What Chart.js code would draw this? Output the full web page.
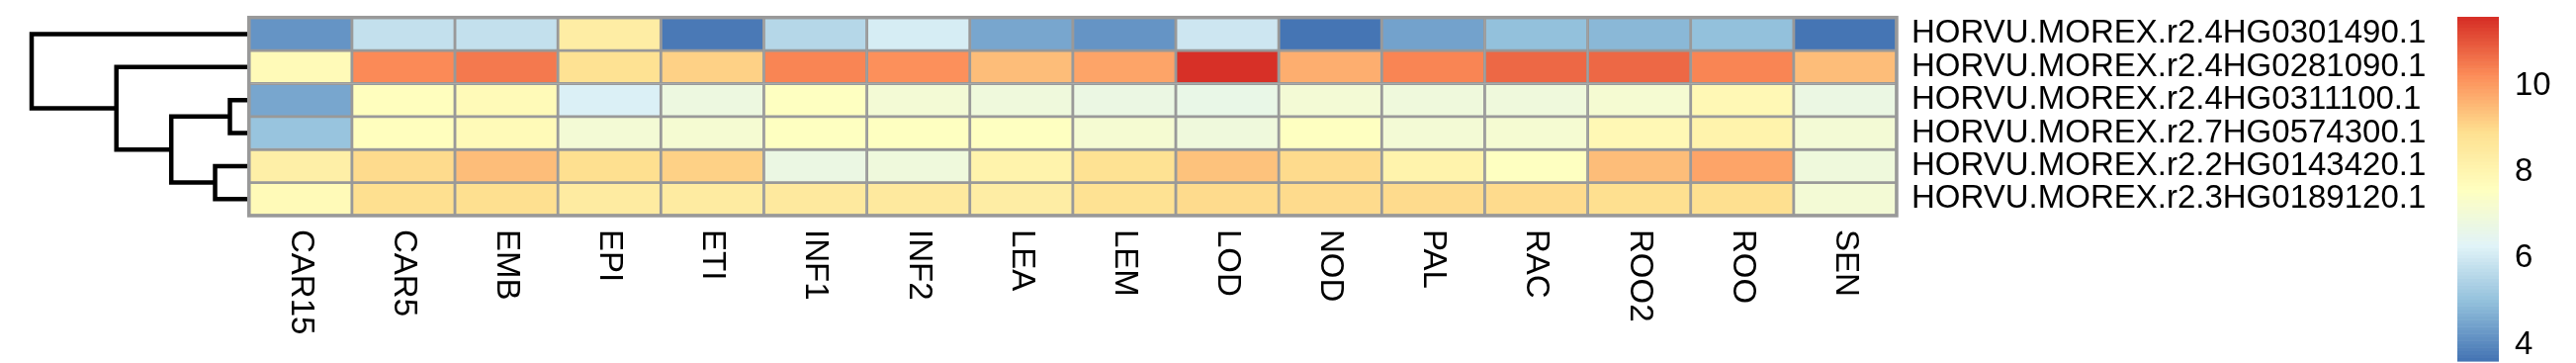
<!DOCTYPE html>
<html>
<head>
<meta charset="utf-8">
<script src="https://cdn.jsdelivr.net/npm/chart.js@4.4.1/dist/chart.umd.min.js"></script>
<style>
body{margin:0;background:#fff;}
#wrap{position:relative;width:2605px;height:367px;}
canvas{position:absolute;left:0;top:0;}
</style>
</head>
<body>
<div id="wrap">
<canvas id="tree" width="2605" height="367"></canvas>
<canvas id="heat" width="2605" height="367"></canvas>
</div>
<script>
/* DATA */
const cols = ["CAR15","CAR5","EMB","EPI","ETI","INF1","INF2","LEA","LEM","LOD","NOD","PAL","RAC","ROO2","ROO","SEN"];
const genes = ["HORVU.MOREX.r2.4HG0301490.1","HORVU.MOREX.r2.4HG0281090.1","HORVU.MOREX.r2.4HG0311100.1",
               "HORVU.MOREX.r2.7HG0574300.1","HORVU.MOREX.r2.2HG0143420.1","HORVU.MOREX.r2.3HG0189120.1"];

const g4HG0301490 = [4.21,5.80,5.80,8.40,3.77,5.59,6.16,4.53,4.21,6.00,3.62,4.49,5.01,4.84,5.01,3.64];
const g4HG0281090 = [7.80,10.28,10.54,8.85,9.14,10.37,10.18,9.52,9.90,11.60,9.70,10.37,10.80,10.78,10.37,9.46];
const g4HG0311100 = [4.55,7.62,7.80,6.21,6.86,7.55,7.10,6.92,6.74,6.67,7.10,6.92,6.97,7.20,7.90,6.79];
const g7HG0574300 = [5.10,7.62,7.80,7.07,7.20,7.60,7.60,7.60,7.20,6.92,7.58,7.11,7.20,7.85,8.14,7.13];
const g2HG0143420 = [8.31,9.00,9.45,8.95,9.13,6.79,6.95,8.14,8.82,9.37,9.03,8.14,7.60,9.47,9.90,6.92];
const g3HG0189120 = [7.80,8.95,8.90,8.45,8.45,8.50,8.50,8.36,8.85,9.00,9.04,9.00,9.00,8.95,8.95,7.13];

/* row dendrogram, hclust style: negative = leaf (display order), positive = earlier merge */
const treeMerges = [[-3,-4],[-5,-6],[1,2],[-2,3],[-1,4]];
const treeHeights = [0.86,1.53,3.51,5.99,9.82];

const legendTicks = [4,6,8,10];

let values = [g4HG0301490,g4HG0281090,g4HG0311100,g7HG0574300,g2HG0143420,g3HG0189120];

/* layout */
const W = 2605, H = 367;
const L = 251.75, R = 1918, T = 17.7, B = 218;
const FONT = '33px "Liberation Sans", Arial, Helvetica, sans-serif';

/* colours: rev(RdYlBu 7) ramped to 100 */
const pal = ["#4575B4","#91BFDB","#E0F3F8","#FFFFBF","#FEE090","#FC8D59","#D73027"];
function hex(c){ return [1,3,5].map(i=>parseInt(c.substr(i,2),16)); }
function ramp(n){
    let out=[];
    for(let i=0;i<n;i++){
        let t=i/(n-1)*(pal.length-1), k=Math.min(Math.floor(t),pal.length-2), f=t-k;
        let a=hex(pal[k]), b=hex(pal[k+1]);
        out.push("rgb("+a.map((v,j)=>Math.round(v+(b[j]-v)*f)).join(",")+")");
    }
    return out;
}
let colors = ramp(100);
let lo = Math.min(...values.flat()), hi = Math.max(...values.flat());
function colorOf(v){
    let i=Math.floor((v-lo)/(hi-lo)*100);
    return colors[Math.max(0,Math.min(99,i))];
}

/* HEATMAP */
let datasets = values.map((row,r)=>({
    type:'bar',
    label:genes[r],
    data:row.map(()=>[r,r+1]),
    backgroundColor:row.map(colorOf),
    borderColor:'#999999',
    borderWidth:1.75,
    borderSkipped:false,
    barPercentage:1,
    categoryPercentage:1,
    grouped:false
}));

const extras = {
    id:'extras',
    afterDraw(chart){
        let ctx=chart.ctx, ca=chart.chartArea, xs=chart.scales.x, ys=chart.scales.y;
        ctx.save();
        // outer border
        ctx.strokeStyle='#999999';
        ctx.lineWidth=3.5;
        ctx.strokeRect(ca.left,ca.top,ca.right-ca.left,ca.bottom-ca.top);

        ctx.fillStyle='#000';
        ctx.font=FONT;
        // column labels, reading downward
        ctx.textAlign='left';
        ctx.textBaseline='middle';
        cols.forEach((c,i)=>{
            ctx.save();
            ctx.translate(xs.getPixelForValue(i),ca.bottom+14);
            ctx.rotate(Math.PI/2);
            ctx.fillText(c,0,0);
            ctx.restore();
        });
        // row labels
        genes.forEach((g,r)=>{
            ctx.fillText(g,ca.right+15,ys.getPixelForValue(r+0.5));
        });

        // colour key
        let kx=2485, kw=42, kt=17, kh=348;
        let ky=v=>kt+(hi-v)/(hi-lo)*kh;
        for(let i=0;i<100;i++){
            let v0=lo+(hi-lo)*i/100, v1=lo+(hi-lo)*(i+1)/100;
            ctx.fillStyle=colors[i];
            ctx.fillRect(kx,ky(v1),kw,ky(v0)-ky(v1)+0.6);
        }
        ctx.fillStyle='#000';
        legendTicks.forEach(t=>ctx.fillText(String(t),2543,ky(t)));
        ctx.restore();
    }
};

new Chart(document.getElementById("heat"),{
    type:'bar',
    data:{labels:cols,datasets:datasets},
    options:{
        responsive:false,
        animation:false,
        events:[],
        layout:{padding:{left:L,right:W-R,top:T,bottom:H-B}},
        plugins:{legend:{display:false},tooltip:{enabled:false}},
        scales:{
            x:{type:'category',display:false,offset:true},
            y:{type:'linear',min:0,max:genes.length,reverse:true,display:false}
        }
    },
    plugins:[extras]
});

/* DENDROGRAM */
let nodes=[];
function nodeOf(id){ return id<0 ? {y:-id-0.5,h:0} : nodes[id-1]; }
let treeSets = treeMerges.map((m,i)=>{
    let a=nodeOf(m[0]), b=nodeOf(m[1]), h=treeHeights[i];
    nodes.push({y:(a.y+b.y)/2,h:h});
    return {
        data:[{x:a.h,y:a.y},{x:h,y:a.y},{x:h,y:b.y},{x:b.h,y:b.y}],
        showLine:true,
        pointRadius:0,
        borderColor:'#000',
        borderWidth:4.5,
        borderJoinStyle:'miter',
        clip:false
    };
});

new Chart(document.getElementById("tree"),{
    type:'scatter',
    data:{datasets:treeSets},
    options:{
        responsive:false,
        animation:false,
        events:[],
        layout:{padding:{left:32,right:W-L,top:T,bottom:H-B}},
        plugins:{legend:{display:false},tooltip:{enabled:false}},
        scales:{
            x:{type:'linear',min:0,max:Math.max(...treeHeights),reverse:true,display:false},
            y:{type:'linear',min:0,max:genes.length,reverse:true,display:false}
        }
    }
});
</script>
</body>
</html>
